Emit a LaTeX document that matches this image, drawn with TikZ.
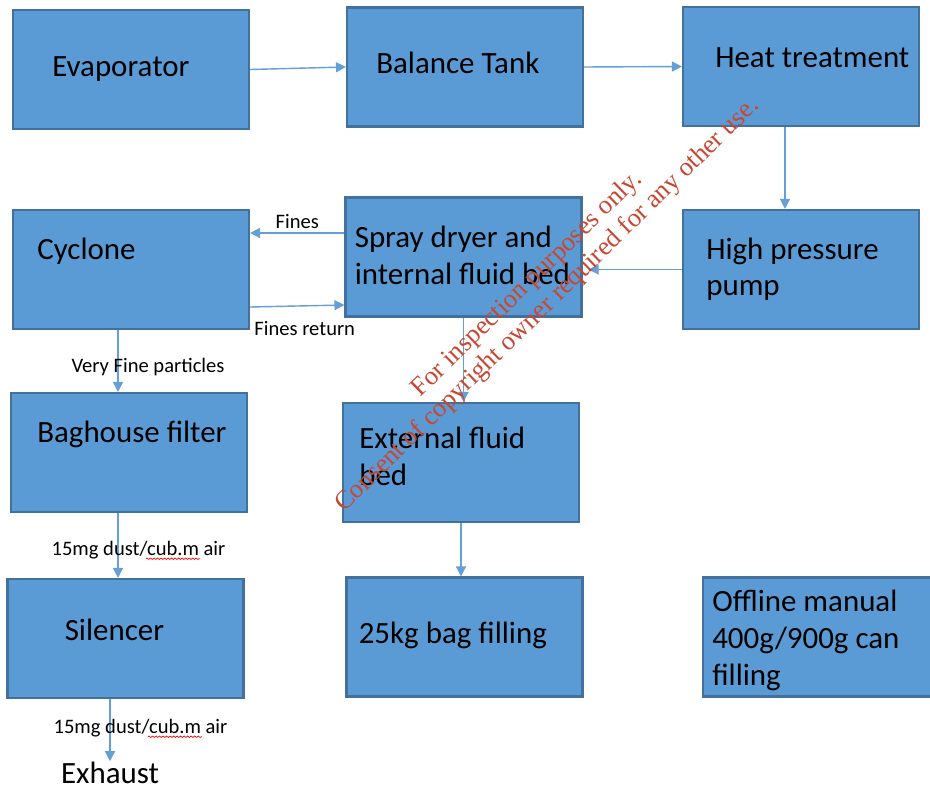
\documentclass[tikz,border=0pt]{standalone}
\usepackage{fontspec}
\setmainfont{Carlito}
\newfontfamily\markfont{Liberation Serif}
\usetikzlibrary{arrows.meta,positioning,decorations.pathmorphing}
\definecolor{boxfill}{RGB}{91,155,213}
\definecolor{boxline}{RGB}{65,113,156}
\definecolor{arrowcol}{RGB}{100,160,215}
\definecolor{markred}{RGB}{200,70,50}

\begin{document}
\begin{tikzpicture}[
  unit/.style={draw=boxline,fill=boxfill,line width=1.2pt,minimum width=4.72cm,minimum height=2.38cm,inner sep=0pt},
  txt/.style={anchor=base west,inner sep=0pt,font=\fontsize{17.6}{20.8}\selectfont,align=left,
    execute at begin node={\spaceskip=0pt\xspaceskip=0pt}},
  note/.style={inner sep=0pt,font=\fontsize{11.7}{13}\selectfont},
  flow/.style={draw=arrowcol,line width=0.8pt,-{Triangle[length=2mm,width=2mm]}}
]
\useasboundingbox (0,0) rectangle (18.6,15.78);

% process units
\node[unit] (evap) at (2.62,14.39) {};
\node[unit] (tank) at (9.30,14.44) {};
\node[unit] (heat) at (16.02,14.45) {};
\node[unit] (cyc) at (2.62,10.39) {};
\node[unit] (spray) at (9.27,10.64) {};
\node[unit] (hpp) at (16.02,10.39) {};
\node[unit] (bag) at (2.58,6.73) {};
\node[unit] (ext) at (9.22,6.53) {};
\node[unit] (sil) at (2.51,3.01) {};
\node[unit] (fill) at (9.29,3.04) {};
\node[unit,minimum width=5.4cm] (can) at (16.76,3.04) {};

% texts in the units
\node[txt] (evap-t) at ([shift={(0.8,-1.35)}]evap.north west) {Evaporator};
\node[txt] (tank-t) at ([shift={(0.6,-1.34)}]tank.north west) {Balance Tank};
\node[txt] (heat-t) at ([shift={(0.66,-1.24)}]heat.north west) {Heat treatment};
\node[txt] (cyc-t) at ([shift={(0.5,-1.01)}]cyc.north west) {Cyclone};
\node[txt,text width=5cm] (spray-t) at ([shift={(0.2,-1.03)}]spray.north west) {Spray dryer and\\internal fluid bed};
\node[txt,text width=5cm] (hpp-t) at ([shift={(0.48,-1.01)}]hpp.north west) {High pressure\\pump};
\node[txt] (bag-t) at ([shift={(0.54,-1.01)}]bag.north west) {Baghouse filter};
\node[txt,text width=5cm] (ext-t) at ([shift={(0.34,-0.93)}]ext.north west) {External fluid\\bed};
\node[txt] (sil-t) at ([shift={(1.16,-1.25)}]sil.north west) {Silencer};
\node[txt] (fill-t) at ([shift={(0.26,-1.34)}]fill.north west) {25kg bag filling};
\node[txt,text width=5cm] (can-t) at ([shift={(0.2,-0.71)}]can.north west) {Offline manual\\400g/900g can\\filling};
\node[txt,anchor=base] (exh) at (2.2,0.12) {Exhaust};

% flows
\draw[flow] (evap.east) -- (tank.west);
\draw[flow] (tank.east) -- (heat.west);
\draw[flow] ([xshift=-3.2mm]heat.south) -- ([xshift=-3.2mm]hpp.north);
\draw[flow] (hpp.west) -- ([xshift=1.2mm]hpp.west -| spray.east);
\draw[flow] ([yshift=4.8mm]spray.west) -- node[note,above=2pt] (fines) {Fines} ([yshift=4.8mm]spray.west -| cyc.east);
\draw[flow] ([yshift=-7.5mm]cyc.east) -- node[note,below=3mm,xshift=1.5mm] (finesret) {Fines return} ([yshift=-9.6mm]spray.west);
\draw[flow] ([xshift=-2.6mm]cyc.south) -- node[note,anchor=base,pos=0.68,xshift=6mm] (vfine) {Very Fine particles} ([xshift=-2.6mm]cyc.south |- bag.north);
\draw[flow] ([xshift=-2.2mm]bag.south) -- node[note,anchor=base,pos=0.65,xshift=4.1mm] (dust1) {15mg dust/cub.m air} ([xshift=-2.2mm]bag.south |- sil.north);
\draw[flow] (exh.north |- sil.south) -- node[note,anchor=base,pos=0.55,xshift=6.1mm] (dust2) {15mg dust/cub.m air} (exh.north);
\draw[flow] (spray.south) -- (spray.south |- ext.north);
\draw[flow] (ext.south) -- (ext.south |- fill.north);

% spell-check marks
\draw[red,line width=0.4pt,decorate,decoration={snake,amplitude=0.4pt,segment length=2pt}] ([shift={(1.9,-0.07)}]dust1.base west) -- ++(1.08,0);
\draw[red,line width=0.4pt,decorate,decoration={snake,amplitude=0.4pt,segment length=2pt}] ([shift={(1.9,-0.07)}]dust2.base west) -- ++(1.08,0);

% watermark
\node[rotate=44.3,text=markred,font=\markfont\fontsize{15}{16.5}\selectfont,align=center,inner sep=0pt] (mark) at (10.75,9.88) {For inspection purposes only.\\Consent of copyright owner required for any other use.};
\end{tikzpicture}
\end{document}
